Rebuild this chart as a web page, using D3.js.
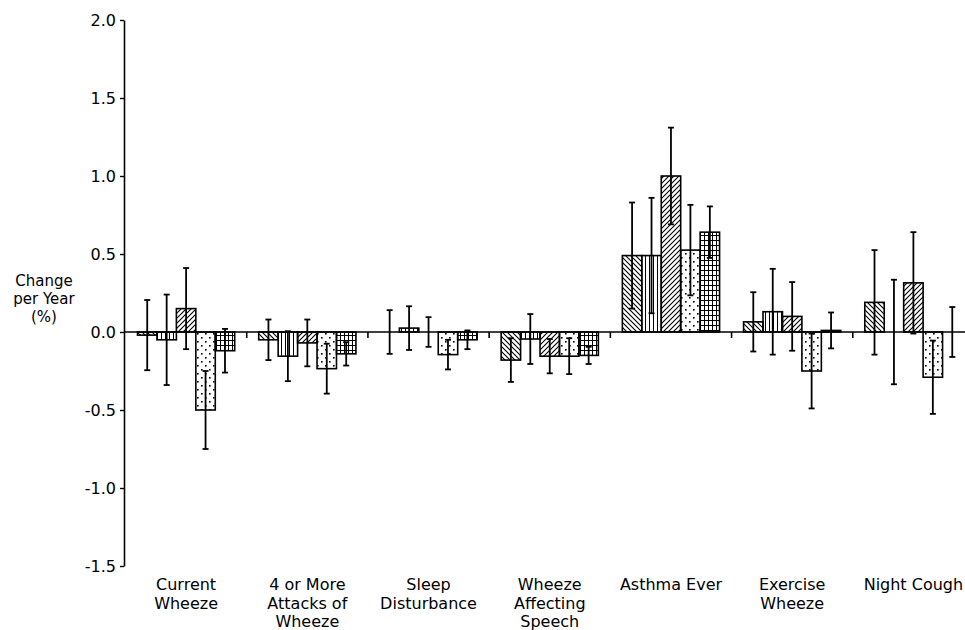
<!DOCTYPE html>
<html>
<head>
<meta charset="utf-8">
<script src="https://cdn.jsdelivr.net/npm/d3@7"></script>
<style>
  body { margin: 0; background: #fff; }
  text { font-family: "DejaVu Sans", sans-serif; font-size: 16px; fill: #000; }
</style>
</head>
<body>
<svg id="chart" width="965" height="630"></svg>
<script>
// categories (line breaks as in the picture)
let categories = [
  ["Current", "Wheeze"],
  ["4 or More", "Attacks of", "Wheeze"],
  ["Sleep", "Disturbance"],
  ["Wheeze", "Affecting", "Speech"],
  ["Asthma Ever"],
  ["Exercise", "Wheeze"],
  ["Night Cough"]
];

// five series, one value per category (change per year, %)
let series1 = [-0.02, -0.05, 0.0, -0.18, 0.49, 0.065, 0.19];
let series2 = [-0.05, -0.155, 0.025, -0.045, 0.49, 0.13, 0.0];
let series3 = [0.15, -0.07, 0.0, -0.155, 1.0, 0.10, 0.315];
let series4 = [-0.50, -0.235, -0.145, -0.155, 0.525, -0.25, -0.29];
let series5 = [-0.12, -0.14, -0.05, -0.15, 0.64, 0.01, 0.0];

// half width of each error bar
let err1 = [0.225, 0.13, 0.14, 0.14, 0.34, 0.19, 0.335];
let err2 = [0.29, 0.16, 0.14, 0.16, 0.37, 0.275, 0.335];
let err3 = [0.26, 0.15, 0.095, 0.11, 0.31, 0.22, 0.325];
let err4 = [0.25, 0.16, 0.095, 0.115, 0.29, 0.24, 0.235];
let err5 = [0.14, 0.075, 0.06, 0.055, 0.165, 0.115, 0.16];

let yTicks = [-1.5, -1.0, -0.5, 0.0, 0.5, 1.0, 1.5, 2.0];
let yLabel = ["Change", "per Year", "(%)"];

let allValues = [series1, series2, series3, series4, series5];
let allErrors = [err1, err2, err3, err4, err5];
let patternIds = ["back", "vert", "fwd", "dots", "grid"];

let svg = d3.select("#chart");

let x = d3.scaleBand()
  .domain(d3.range(categories.length))
  .range([125.5, 974]);

let xInner = d3.scaleBand()
  .domain(d3.range(allValues.length))
  .range([12, x.bandwidth() - 12]);

let y = d3.scaleLinear()
  .domain([-1.5, 2.0])
  .range([566, 20]);

// fill patterns
let defs = svg.append("defs");

let back = defs.append("pattern").attr("id", "back")
  .attr("patternUnits", "userSpaceOnUse").attr("width", 5).attr("height", 5);
back.append("path").attr("d", "M0,0L5,5M-1,4L1,6M4,-1L6,1")
  .attr("stroke", "#000").attr("stroke-width", 1.1);

let fwd = defs.append("pattern").attr("id", "fwd")
  .attr("patternUnits", "userSpaceOnUse").attr("width", 5).attr("height", 5);
fwd.append("path").attr("d", "M0,5L5,0M-1,1L1,-1M4,6L6,4")
  .attr("stroke", "#000").attr("stroke-width", 1.1);

let vert = defs.append("pattern").attr("id", "vert")
  .attr("patternUnits", "userSpaceOnUse").attr("width", 4).attr("height", 4);
vert.append("rect").attr("x", 1).attr("y", 0).attr("width", 1).attr("height", 4).attr("fill", "#000");

let dots = defs.append("pattern").attr("id", "dots")
  .attr("patternUnits", "userSpaceOnUse").attr("width", 8).attr("height", 8);
dots.append("rect").attr("x", 1).attr("y", 1).attr("width", 1.6).attr("height", 1.6).attr("fill", "#000");
dots.append("rect").attr("x", 5).attr("y", 5).attr("width", 1.6).attr("height", 1.6).attr("fill", "#000");

let grid = defs.append("pattern").attr("id", "grid")
  .attr("patternUnits", "userSpaceOnUse").attr("width", 4).attr("height", 5);
grid.append("rect").attr("x", 0).attr("y", 0).attr("width", 1).attr("height", 5).attr("fill", "#000");
grid.append("rect").attr("x", 0).attr("y", 0).attr("width", 4).attr("height", 1).attr("fill", "#000");

// bars
let barData = [];
allValues.forEach((vals, s) => {
  vals.forEach((v, c) => {
    barData.push({s: s, c: c, v: v, e: allErrors[s][c]});
  });
});

let bars = svg.append("g");
bars.selectAll("rect")
  .data(barData.filter(d => d.v !== 0))
  .enter()
  .append("rect")
  .attr("x", d => x(d.c) + xInner(d.s))
  .attr("width", xInner.bandwidth())
  .attr("y", d => y(Math.max(0, d.v)))
  .attr("height", d => Math.abs(y(d.v) - y(0)))
  .attr("fill", d => "url(#" + patternIds[d.s] + ")")
  .attr("stroke", "#000")
  .attr("stroke-width", 1.6);

// error bars
let errs = svg.append("g").attr("stroke", "#000").attr("stroke-width", 1.8);
barData.forEach(d => {
  let cx = x(d.c) + xInner(d.s) + xInner.bandwidth() / 2;
  errs.append("line")
    .attr("x1", cx).attr("x2", cx)
    .attr("y1", y(d.v + d.e)).attr("y2", y(d.v - d.e));
  [d.v + d.e, d.v - d.e].forEach(t => {
    errs.append("line")
      .attr("x1", cx - 3).attr("x2", cx + 3)
      .attr("y1", y(t)).attr("y2", y(t));
  });
});

// zero line and group ticks
svg.append("line")
  .attr("x1", x.range()[0] - 1.5).attr("x2", 965)
  .attr("y1", y(0)).attr("y2", y(0))
  .attr("stroke", "#000").attr("stroke-width", 1.6);

svg.append("g").selectAll("line")
  .data(d3.range(1, categories.length))
  .enter()
  .append("line")
  .attr("x1", d => x(d)).attr("x2", d => x(d))
  .attr("y1", y(0)).attr("y2", y(0) + 6)
  .attr("stroke", "#000").attr("stroke-width", 1.6);

// y axis
let yAxis = svg.append("g")
  .attr("transform", "translate(124,0)")
  .call(d3.axisLeft(y).tickValues(yTicks).tickSize(4).tickSizeOuter(0)
    .tickFormat(d => d.toFixed(1)));
yAxis.select(".domain").attr("stroke-width", 1.6);
yAxis.selectAll(".tick line").attr("stroke-width", 1.4);
yAxis.selectAll(".tick text")
  .attr("x", -8)
  .style("font-family", "'DejaVu Sans', sans-serif")
  .style("font-size", "16px");

// y axis title
svg.append("text")
  .attr("text-anchor", "middle")
  .style("font-size", "15px")
  .selectAll("tspan")
  .data(yLabel)
  .enter()
  .append("tspan")
  .attr("x", 44)
  .attr("y", (d, i) => 286 + i * 18)
  .text(d => d);

// category labels
let catLabels = svg.append("g");
categories.forEach((lines, c) => {
  catLabels.append("text")
    .attr("text-anchor", "middle")
    .selectAll("tspan")
    .data(lines)
    .enter()
    .append("tspan")
    .attr("x", x(c) + x.bandwidth() / 2)
    .attr("y", (d, i) => 590 + i * 18.5)
    .text(d => d);
});
</script>
</body>
</html>
